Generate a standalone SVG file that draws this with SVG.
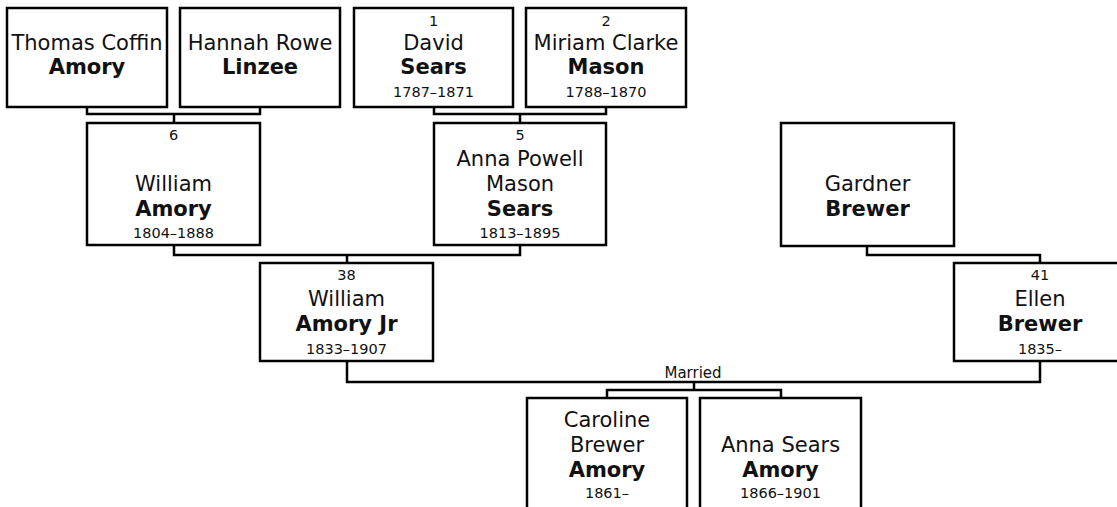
<svg xmlns="http://www.w3.org/2000/svg" width="1117" height="507" viewBox="0 0 1117 507">
<style>
.box{fill:#fff;stroke:#000;stroke-width:2.5}
.ln{fill:none;stroke:#000;stroke-width:2.5}
text{font-family:"DejaVu Sans","Liberation Sans",sans-serif;fill:#111;text-anchor:middle}
.n{font-size:21px}
.b{font-size:21px;font-weight:bold}
.s{font-size:14.5px}
.m{font-size:15px}
</style>
<rect width="1117" height="507" fill="#fff"/>
<g id="connectors">
<path class="ln" d="M87 107V114H260V107M174 114V123"/>
<path class="ln" d="M434 107V114H606V107M520 114V123"/>
<path class="ln" d="M174 245V255H520V245M347 255V263"/>
<path class="ln" d="M867 246V255H1040V263"/>
<path class="ln" d="M347 361V382H1040V361M694 382V390M607 398V390H781V398"/>
<text class="m" x="693" y="378">Married</text>
</g>
<g id="thomas">
<rect class="box" x="7" y="8" width="160" height="99"/>
<text class="n" x="87" y="50">Thomas Coffin</text>
<text class="b" x="87" y="74">Amory</text>
</g>
<g id="hannah">
<rect class="box" x="180" y="8" width="160" height="99"/>
<text class="n" x="260" y="50">Hannah Rowe</text>
<text class="b" x="260" y="74">Linzee</text>
</g>
<g id="david">
<rect class="box" x="354" y="8" width="159" height="99"/>
<text class="s" x="433.5" y="26">1</text>
<text class="n" x="433.5" y="50">David</text>
<text class="b" x="433.5" y="74">Sears</text>
<text class="s" x="433.5" y="97">1787–1871</text>
</g>
<g id="miriam">
<rect class="box" x="526" y="8" width="160" height="99"/>
<text class="s" x="606" y="26">2</text>
<text class="n" x="606" y="50">Miriam Clarke</text>
<text class="b" x="606" y="74">Mason</text>
<text class="s" x="606" y="97">1788–1870</text>
</g>
<g id="william">
<rect class="box" x="87" y="123" width="173" height="122"/>
<text class="s" x="173.5" y="140">6</text>
<text class="n" x="173.5" y="191">William</text>
<text class="b" x="173.5" y="216">Amory</text>
<text class="s" x="173.5" y="238">1804–1888</text>
</g>
<g id="anna-powell">
<rect class="box" x="434" y="123" width="172" height="122"/>
<text class="s" x="520" y="140">5</text>
<text class="n" x="520" y="166">Anna Powell</text>
<text class="n" x="520" y="191">Mason</text>
<text class="b" x="520" y="216">Sears</text>
<text class="s" x="520" y="238">1813–1895</text>
</g>
<g id="gardner">
<rect class="box" x="781" y="123" width="173" height="123"/>
<text class="n" x="867.5" y="191">Gardner</text>
<text class="b" x="867.5" y="216">Brewer</text>
</g>
<g id="william-jr">
<rect class="box" x="260" y="263" width="173" height="98"/>
<text class="s" x="346.5" y="280">38</text>
<text class="n" x="346.5" y="306">William</text>
<text class="b" x="346.5" y="331">Amory Jr</text>
<text class="s" x="346.5" y="354">1833–1907</text>
</g>
<g id="ellen">
<rect class="box" x="954" y="263" width="173" height="98"/>
<text class="s" x="1040" y="280">41</text>
<text class="n" x="1040" y="306">Ellen</text>
<text class="b" x="1040" y="331">Brewer</text>
<text class="s" x="1040" y="354">1835–</text>
</g>
<g id="caroline">
<rect class="box" x="527" y="398" width="160" height="123"/>
<text class="n" x="607" y="427">Caroline</text>
<text class="n" x="607" y="452">Brewer</text>
<text class="b" x="607" y="477">Amory</text>
<text class="s" x="607" y="498">1861–</text>
</g>
<g id="anna-sears">
<rect class="box" x="700" y="398" width="161" height="123"/>
<text class="n" x="780.5" y="452">Anna Sears</text>
<text class="b" x="780.5" y="477">Amory</text>
<text class="s" x="780.5" y="498">1866–1901</text>
</g>
</svg>
